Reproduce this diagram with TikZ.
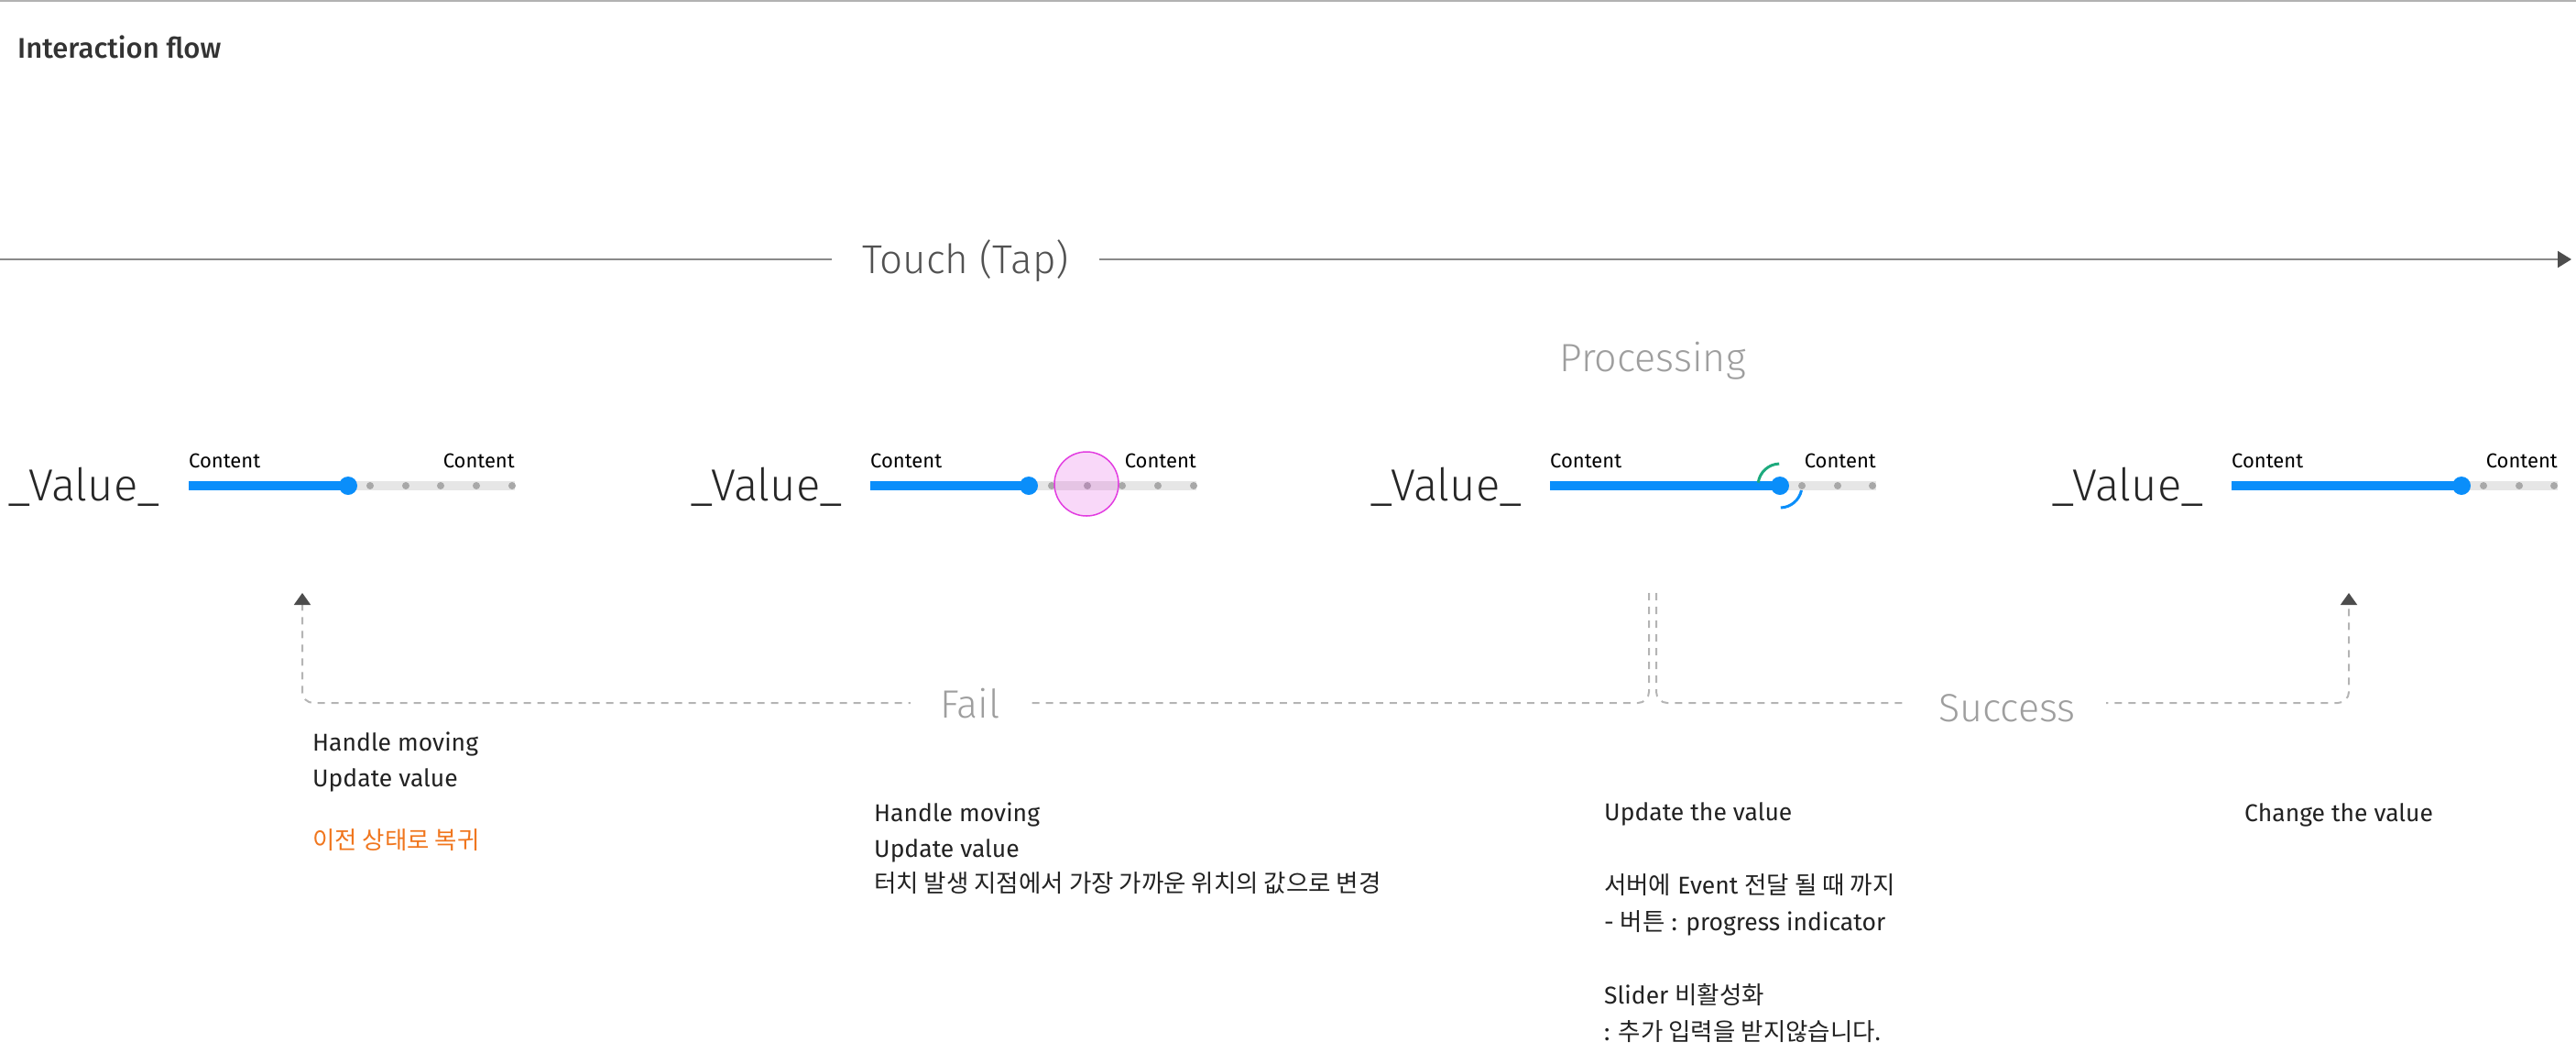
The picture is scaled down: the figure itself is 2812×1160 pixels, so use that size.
\documentclass[tikz,border=0pt]{standalone}
\usepackage{fontspec}
\setmainfont{Fira Sans}
\newfontfamily\kr{Noto Sans CJK KR}
\IfFontExistsTF{Fira Sans Medium}{\newfontfamily\semib{Fira Sans Medium}}{\newfontfamily\semib[FakeBold=2.5]{Fira Sans}}
\IfFontExistsTF{Fira Sans Light}{\newfontfamily\lightf{Fira Sans Light}}{\newfontfamily\lightf{Fira Sans}}
\usetikzlibrary{arrows.meta}
\definecolor{sliderblue}{HTML}{0A8EFA}
\definecolor{trackgray}{HTML}{E6E6E6}
\definecolor{dotgray}{HTML}{A8A8A8}
\definecolor{dashgray}{HTML}{B4B4B4}
\definecolor{tipgray}{HTML}{4D4D4D}
\definecolor{linegray}{HTML}{8A8A8A}
\definecolor{labelgray}{HTML}{9E9E9E}
\definecolor{txt}{HTML}{222222}
\definecolor{orangetxt}{HTML}{F0761E}
\definecolor{touchpink}{HTML}{E23CE0}
\definecolor{progreen}{HTML}{1DAA7D}
\newcommand{\drawslider}[5]{%
  \coordinate (#1L) at (#2,530);
  \coordinate (#1R) at (#3,530);
  \coordinate (#1H) at (#4,530);
  \draw[trackline] (#1H) -- (#1R);
  \foreach \d in {#5} \fill[dotgray] (\d,530) circle[radius=4pt];
  \draw[fillbar] (#1L) -- (#1H);
  \fill[sliderblue] (#1H) circle[radius=10pt];
  \node[contentlbl, anchor=base west] (#1cl) at (#2,510) {Content};
  \node[contentlbl, anchor=base east] (#1cr) at (#3,510) {Content};
}
\begin{document}
\begin{tikzpicture}[x=1pt,y=-1pt,
  trackline/.style={line width=10pt, trackgray},
  fillbar/.style={line width=10pt, sliderblue},
  contentlbl/.style={inner sep=0pt, text=black, font=\fontsize{22}{26}\selectfont},
  valuelbl/.style={inner sep=0pt, text=black!85, font=\lightf\fontsize{49}{56}\selectfont, anchor=base west},
  bodytxt/.style={inner sep=0pt, text=txt, font=\fontsize{26.5}{32}\selectfont, anchor=base west},
  flowlbl/.style={inner ysep=0pt, inner xsep=33pt, text=labelgray, fill=white, font=\lightf\fontsize{43}{50}\selectfont, anchor=base},
  dashline/.style={dashgray, line width=2pt, dash pattern=on 8pt off 7pt, rounded corners=12pt},
  uptip/.style={-{Triangle[length=13pt,width=18pt,color=tipgray]}}
]
\useasboundingbox (0,0) rectangle (2812,1160);
% top border
\coordinate (topL) at (0,1);
\coordinate (topR) at (2812,1);
\draw[line width=2.5pt, color=black!30] (topL) -- (topR);
\node[inner sep=0pt, anchor=base west, text=black!80, font=\semib\fontsize{31}{36}\selectfont] (title) at (19,63) {Interaction flow};
% timeline
\coordinate (tlS) at (0,283);
\coordinate (tlE) at (2807,283);
\node[inner ysep=0pt, inner xsep=33pt, anchor=base, text=black!68, font=\lightf\fontsize{44}{50}\selectfont] (touch) at (1054,298) {Touch (Tap)};
\draw[linegray, line width=2pt] (tlS) -- (touch.west |- tlS);
\draw[linegray, line width=2pt, -{Triangle[length=15pt,width=18pt,color=tipgray]}] (touch.east |- tlS) -- (tlE);
% processing label
\node[inner sep=0pt, anchor=base, text=labelgray, font=\lightf\fontsize{43}{50}\selectfont] (proc) at (1804,405) {Processing};
% value labels
\node[valuelbl] (v1) at (8,546) {\_Value\_};
\node[valuelbl] (v2) at (753,546) {\_Value\_};
\node[valuelbl] (v3) at (1495,546) {\_Value\_};
\node[valuelbl] (v4) at (2239,546) {\_Value\_};
% sliders
\drawslider{s1}{206}{562}{380}{404,443,481,520,559}
\drawslider{s2}{950}{1306}{1123}{1148,1187,1225,1264,1303}
\drawslider{s3}{1692}{2048}{1943}{1967,2006,2044}
\drawslider{s4}{2436}{2792}{2687}{2711,2750,2788}
% touch circle
\node[circle, minimum size=70pt, inner sep=0pt, draw=touchpink, line width=1.5pt, fill=touchpink, fill opacity=0.2, draw opacity=1] (tap) at (1186,528) {};
% progress arcs
\draw[progreen, line width=3pt] (s3H) ++(172:24pt) arc[start angle=172, end angle=92, radius=24pt];
\draw[sliderblue, line width=3pt] (s3H) ++(-12:24pt) arc[start angle=-12, end angle=-88, radius=24pt];
% flow paths
\coordinate (dashY) at (0,767);
\coordinate (failTop) at (1800,647);
\coordinate (failEnd) at (330,647);
\coordinate (succTop) at (1808,647);
\coordinate (succEnd) at (2564,647);
\draw[dashline, uptip] (failTop) -- (failTop |- dashY) -- (failEnd |- dashY) -- (failEnd);
\draw[dashline, uptip] (succTop) -- (succTop |- dashY) -- (succEnd |- dashY) -- (succEnd);
\node[flowlbl] (fail) at (1059,783) {Fail};
\node[flowlbl] (succ) at (2191,787) {Success};
% text blocks
\node[bodytxt] (b1a) at (341,819) {Handle moving};
\node[bodytxt] (b1b) at (341,858) {Update value};
\node[bodytxt, text=orangetxt] (b1c) at (341,926) {\kr 이전 상태로 복귀};
\node[bodytxt] (b2a) at (954,896) {Handle moving};
\node[bodytxt] (b2b) at (954,935) {Update value};
\node[bodytxt] (b2c) at (954,973) {\kr 터치 발생 지점에서 가장 가까운 위치의 값으로 변경};
\node[bodytxt] (b3a) at (1751,895) {Update the value};
\node[bodytxt] (b3b) at (1751,975) {{\kr 서버에} Event {\kr 전달 될 때 까지}};
\node[bodytxt] (b3c) at (1751,1015) {- {\kr 버튼} : progress indicator};
\node[bodytxt] (b3d) at (1751,1095) {Slider {\kr 비활성화}};
\node[bodytxt] (b3e) at (1751,1135) {: {\kr 추가 입력을 받지않습니다.}};
\node[bodytxt] (b4a) at (2450,896) {Change the value};
\end{tikzpicture}
\end{document}
